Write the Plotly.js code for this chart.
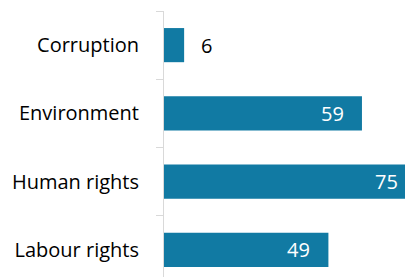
<!DOCTYPE html>
<html><head><meta charset="utf-8">
<script src="https://cdn.plot.ly/plotly-3.0.1.min.js"></script>
<style>html,body{margin:0;padding:0;overflow:hidden;background:#fff;width:405px;height:277px}</style>
</head><body><div id="chart"></div>
<script>
var categories = ["Corruption", "Environment", "Human rights", "Labour rights"];
var values = [6, 59, 75, 49];
var barColor = "#117aa3";
var fontFam = "'Open Sans', sans-serif";

var annotations = values.map(function(v, i){
  var inside = v > 20;
  return {
    x: v, y: categories[i], xref: 'x', yref: 'y',
    text: String(v), showarrow: false,
    xanchor: inside ? 'right' : 'left',
    xshift: inside ? -16 : 15,
    font: {family: fontFam, size: 20, color: inside ? '#ffffff' : '#000000'}
  };
});

Plotly.newPlot('chart', [{
  type: 'bar', orientation: 'h',
  x: values, y: categories,
  marker: {color: barColor},
  hoverinfo: 'none'
}], {
  width: 419, height: 284,
  margin: {l: 164, r: 0, t: 11, b: 0, pad: 0},
  paper_bgcolor: '#fff', plot_bgcolor: '#fff',
  bargap: 0.5,
  showlegend: false,
  xaxis: {range: [0, 76], visible: false, fixedrange: true},
  yaxis: {
    autorange: 'reversed', showline: true, linecolor: '#d9d9d9', linewidth: 1,
    ticks: 'outside', tickson: 'boundaries', ticklen: 7, tickcolor: '#d9d9d9',
    ticklabelstandoff: 20,
    showgrid: false, zeroline: false,
    tickfont: {family: fontFam, size: 20, color: '#000000'}
  },
  annotations: annotations
}, {displayModeBar: false, staticPlot: true});
</script></body></html>
